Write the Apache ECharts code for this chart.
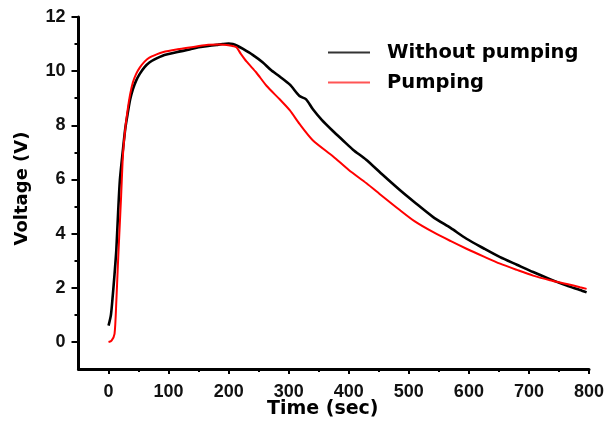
<!DOCTYPE html>
<html>
<head>
<meta charset="utf-8">
<script src="https://cdn.jsdelivr.net/npm/echarts@6/dist/echarts.min.js"></script>
<style>
  html, body { margin: 0; padding: 0; background: #fff; }
  #chart { width: 609px; height: 423px; }
</style>
</head>
<body>
<div id="chart"></div>
<script>
// ---- data ----
var seriesNames = ['Without pumping', 'Pumping'];

var tWithout = [0, 4, 7, 10, 13, 16, 19, 24, 28, 32, 36, 40.5, 46, 52, 60, 68, 80, 90, 100, 113, 135, 150, 163, 180, 190, 200, 207, 215, 224, 240, 257, 270, 285, 302, 318, 329, 340, 355, 374, 390, 407, 429, 455, 485, 510, 540, 570, 596, 625, 652, 680, 707, 735, 763, 785, 796];
var vWithout = [0.6, 1.0, 1.7, 2.5, 3.4, 4.8, 6.0, 7.1, 7.9, 8.45, 8.95, 9.33, 9.65, 9.9, 10.15, 10.32, 10.47, 10.57, 10.63, 10.7, 10.8, 10.88, 10.92, 10.97, 11.0, 11.02, 11.0, 10.93, 10.82, 10.6, 10.32, 10.05, 9.8, 9.5, 9.08, 8.96, 8.6, 8.2, 7.78, 7.45, 7.1, 6.73, 6.2, 5.61, 5.15, 4.62, 4.2, 3.81, 3.45, 3.13, 2.85, 2.58, 2.32, 2.08, 1.92, 1.83];

var tPumping = [0, 5, 10, 13, 15.5, 18, 21, 24, 28, 32, 36, 40.5, 46, 52, 60, 68, 80, 90, 113, 135, 163, 185, 202, 208, 213, 220, 230, 246, 263, 285, 302, 318, 340, 374, 400, 429.5, 455, 485, 510, 540, 570, 596, 625, 652, 680, 707, 735, 763, 785, 796];
var vPumping = [0.0, 0.05, 0.3, 1.5, 2.8, 4.0, 5.4, 6.9, 7.9, 8.6, 9.15, 9.58, 9.9, 10.13, 10.35, 10.5, 10.62, 10.7, 10.8, 10.87, 10.97, 10.98, 10.95, 10.92, 10.88, 10.65, 10.35, 9.95, 9.46, 8.96, 8.55, 8.05, 7.45, 6.85, 6.35, 5.86, 5.4, 4.87, 4.45, 4.06, 3.72, 3.44, 3.15, 2.89, 2.66, 2.45, 2.28, 2.14, 2.02, 1.96];

var xMajorTicks = [0, 100, 200, 300, 400, 500, 600, 700, 800];
var xMinorTicks = [50, 150, 250, 350, 450, 550, 650, 750];
var yMajorTicks = [0, 2, 4, 6, 8, 10, 12];
var yMinorTicks = [1, 3, 5, 7, 9, 11];

function pairs(t, v) { return t.map(function (x, i) { return [x, v[i]]; }); }

var labelFont = { fontFamily: 'Liberation Sans, Arial, sans-serif', fontWeight: 'bold', fontSize: 18, color: '#111' };
var titleFont = { fontFamily: 'DejaVu Sans, sans-serif', fontWeight: 'bold', color: '#000' };

function tickAxis(kind, values, len) {
  var base = {
    type: 'value',
    axisLine: { show: false, onZero: false },
    axisTick: { show: true, length: len, customValues: values, lineStyle: { color: '#000', width: 2 } },
    axisLabel: { show: false },
    splitLine: { show: false }
  };
  if (kind === 'x') { base.min = -50; base.max = 800; base.position = 'bottom'; }
  else { base.min = -1; base.max = 12; base.position = 'left'; }
  return base;
}

var chart = echarts.init(document.getElementById('chart'), null, { renderer: 'canvas' });
chart.setOption({
  animation: false,
  backgroundColor: '#fff',
  grid: { left: 78.5, right: 20, top: 17, bottom: 54, containLabel: false, outerBoundsMode: 'none' },
  legend: {
    orient: 'vertical',
    left: 328, top: 42.5, padding: 0,
    icon: 'rect',
    itemWidth: 42, itemHeight: 2, itemGap: 10,
    data: seriesNames,
    textStyle: Object.assign({ fontSize: 19.5, padding: [0, 0, 0, 12] }, titleFont)
  },
  xAxis: [
    {
      type: 'value', min: -50, max: 800,
      name: 'Time (sec)', nameLocation: 'middle', nameGap: 31, nameMoveOverlap: false,
      nameTextStyle: Object.assign({ fontSize: 19, padding: [0, 22, 0, 0] }, titleFont),
      axisLine: { show: true, onZero: false, lineStyle: { color: '#000', width: 3 } },
      axisTick: { show: false },
      axisLabel: Object.assign({ margin: 14, customValues: xMajorTicks }, labelFont),
      splitLine: { show: false }
    },
    tickAxis('x', xMajorTicks, 5),
    tickAxis('x', xMinorTicks, 3)
  ],
  yAxis: [
    {
      type: 'value', min: -1, max: 12,
      name: 'Voltage (V)', nameLocation: 'middle', nameGap: 47, nameMoveOverlap: false,
      nameTextStyle: Object.assign({ fontSize: 18, padding: [0, 0, 0, 9] }, titleFont),
      axisLine: { show: true, onZero: false, lineStyle: { color: '#000', width: 3 } },
      axisTick: { show: false },
      axisLabel: Object.assign({ margin: 13, customValues: yMajorTicks }, labelFont),
      splitLine: { show: false }
    },
    tickAxis('y', yMajorTicks, 7),
    tickAxis('y', yMinorTicks, 4)
  ],
  series: [
    {
      name: seriesNames[0], type: 'line', xAxisIndex: 0, yAxisIndex: 0,
      data: pairs(tWithout, vWithout),
      symbol: 'none', smooth: 0.25,
      lineStyle: { color: '#000', width: 2.6 },
      itemStyle: { color: '#333' },
      z: 2
    },
    {
      name: seriesNames[1], type: 'line', xAxisIndex: 0, yAxisIndex: 0,
      data: pairs(tPumping, vPumping),
      symbol: 'none', smooth: 0.25,
      lineStyle: { color: '#ff0000', width: 2 },
      itemStyle: { color: '#ff5555' },
      z: 3
    }
  ]
});
</script>
</body>
</html>
